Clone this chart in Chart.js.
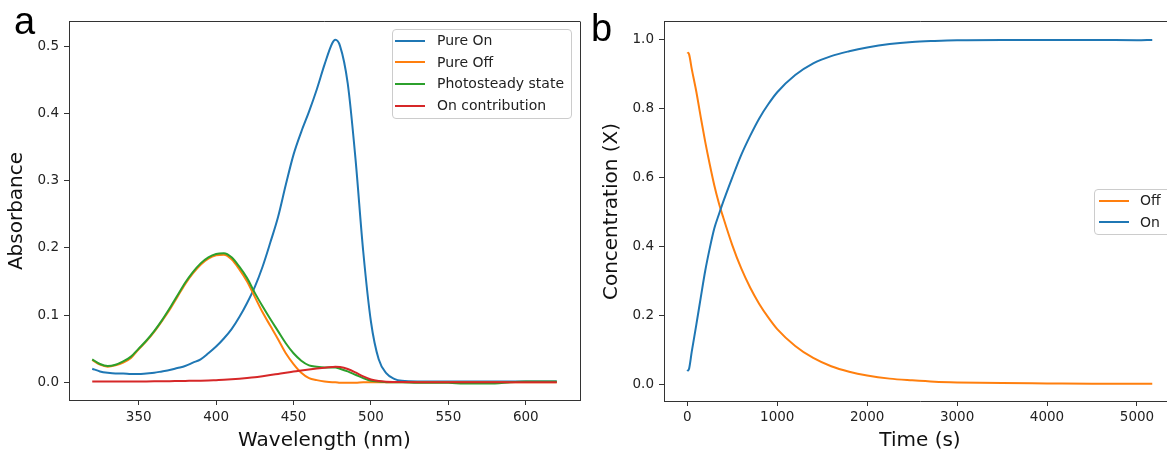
<!DOCTYPE html>
<html>
<head>
<meta charset="utf-8">
<script src="https://cdn.jsdelivr.net/npm/chart.js@4.4.1/dist/chart.umd.min.js"></script>
<style>
  html, body { margin: 0; padding: 0; background: #fff; overflow: hidden; }
  #wrap { position: relative; width: 1167px; height: 451px; overflow: hidden; }
  canvas { position: absolute; top: 0; }
  #chartA { left: 0; }
  #chartB { left: 600px; }
  .panel { position: absolute; font-family: "Liberation Sans", Arial, sans-serif; font-size: 38px; line-height: 38px; color: #000; }
  .legend { position: absolute; box-sizing: border-box; border: 1px solid #ccc; border-radius: 4px;
            background: rgba(255,255,255,0.8); font-family: "DejaVu Sans", sans-serif; font-size: 14px; color: #222; }
  .legend .row { position: relative; height: 21.6px; line-height: 21.6px; white-space: nowrap; }
  .legend .swatch { position: absolute; top: 50%; width: 30px; height: 2px; margin-top: -1px; }
</style>
</head>
<body>
<div id="wrap">
  <canvas id="chartA" width="600" height="451"></canvas>
  <canvas id="chartB" width="580" height="451"></canvas>
  <div class="panel" style="left:14px; top:2px;">a</div>
  <div class="panel" style="left:591px; top:9px;">b</div>
  <div class="legend" id="legendA" style="left:392px; top:29px; width:180px; height:90px;"></div>
  <div class="legend" id="legendB" style="left:1094px; top:189px; width:90px; height:46px;"></div>
</div>
<script>
// --- panel a: absorption spectra ---
const wavelengths = [320, 325, 330, 335, 340, 345, 350, 355, 360, 365, 370, 375, 380, 385, 390, 395,
  400, 405, 410, 415, 420, 425, 430, 435, 440, 445, 450, 455, 460, 465, 470, 475, 477, 480, 485, 490, 495,
  500, 505, 510, 515, 520, 530, 540, 550, 560, 570, 580, 590, 600, 610, 620];
const pureOn = [0.020, 0.016, 0.014, 0.013, 0.013, 0.012, 0.012, 0.013, 0.014, 0.016, 0.018, 0.021, 0.024, 0.029, 0.034, 0.043,
  0.053, 0.065, 0.079, 0.097, 0.118, 0.142, 0.172, 0.208, 0.246, 0.294, 0.339, 0.373, 0.403, 0.436, 0.473, 0.505, 0.510, 0.501, 0.445, 0.333, 0.195,
  0.090, 0.034, 0.013, 0.005, 0.002, 0.001, 0.001, 0.001, 0.001, 0.001, 0.001, 0.001, 0.001, 0.001, 0.001];
const pureOff = [0.033, 0.026, 0.023, 0.025, 0.029, 0.036, 0.049, 0.061, 0.075, 0.091, 0.108, 0.127, 0.146, 0.162, 0.175, 0.184,
  0.189, 0.190, 0.183, 0.168, 0.150, 0.127, 0.104, 0.084, 0.064, 0.043, 0.027, 0.014, 0.006, 0.003, 0.001, 0.000, 0.000, -0.001, -0.001, -0.001, 0.000,
  0.000, 0.000, 0.000, 0.000, 0.000, 0.000, 0.000, 0.000, 0.000, 0.000, 0.000, 0.000, 0.000, 0.000, 0.000];
const photosteady = [0.034, 0.027, 0.024, 0.026, 0.031, 0.038, 0.050, 0.062, 0.076, 0.092, 0.110, 0.129, 0.148, 0.164, 0.177, 0.186,
  0.191, 0.192, 0.186, 0.172, 0.155, 0.133, 0.113, 0.094, 0.076, 0.058, 0.043, 0.032, 0.025, 0.023, 0.022, 0.022, 0.022, 0.020, 0.016, 0.011, 0.006,
  0.002, 0.001, 0.000, 0.000, 0.000, -0.001, -0.001, -0.001, -0.002, -0.002, -0.002, 0.000, 0.001, 0.001, 0.001];
const onContribution = [0.0010, 0.0010, 0.0010, 0.0010, 0.0010, 0.0010, 0.0010, 0.0011, 0.0012, 0.0013, 0.0014, 0.0016, 0.0018, 0.0020, 0.0022, 0.0025,
  0.0030, 0.0035, 0.0042, 0.0050, 0.0060, 0.0072, 0.0088, 0.0105, 0.0123, 0.0141, 0.0158, 0.0175, 0.0190, 0.0203, 0.0215, 0.0225, 0.0228, 0.0224, 0.0195, 0.0145, 0.0085,
  0.0040, 0.0017, 0.0007, 0.0003, 0.0001, 0.0000, 0.0000, 0.0000, 0.0000, 0.0000, 0.0000, 0.0000, 0.0000, 0.0000, 0.0000];
const seriesA = ["Pure On", "Pure Off", "Photosteady state", "On contribution"];
const xTicksA = [350, 400, 450, 500, 550, 600];
const yTicksA = [0.0, 0.1, 0.2, 0.3, 0.4, 0.5];

// --- panel b: kinetics ---
const times = [0, 20, 50, 100, 150, 200, 250, 300, 350, 400, 500, 600, 700, 800, 900, 1000,
  1200, 1400, 1600, 1800, 2000, 2250, 2500, 2750, 3000, 3500, 4000, 4500, 5000, 5170];
const offFraction = [0.964, 0.958, 0.915, 0.850, 0.775, 0.703, 0.638, 0.578, 0.527, 0.484, 0.404, 0.336, 0.280, 0.233, 0.194, 0.160,
  0.111, 0.076, 0.052, 0.036, 0.025, 0.016, 0.011, 0.007, 0.005, 0.003, 0.002, 0.001, 0.001, 0.001];
const onFraction = [0.038, 0.045, 0.095, 0.172, 0.252, 0.330, 0.395, 0.452, 0.492, 0.530, 0.600, 0.666, 0.722, 0.772, 0.813, 0.848,
  0.898, 0.932, 0.953, 0.967, 0.978, 0.988, 0.994, 0.997, 0.999, 1.000, 1.000, 1.000, 0.999, 1.000];
const seriesB = ["Off", "On"];
const xTicksB = [0, 1000, 2000, 3000, 4000, 5000];
const yTicksB = [0.0, 0.2, 0.4, 0.6, 0.8, 1.0];

const tab = { blue: "#1f77b4", orange: "#ff7f0e", green: "#2ca02c", red: "#d62728" };
const AXIS = "#333";
const tickFont = { family: "DejaVu Sans", size: 13.5 };
const titleFont = { family: "DejaVu Sans", size: 20, lineHeight: 1.0 };

const points = (xs, ys) => xs.map((x, i) => ({ x: x, y: ys[i] }));

// draw top + right spines like matplotlib
const boxSpines = {
  id: "boxSpines",
  afterDraw(chart) {
    const { ctx, chartArea: a } = chart;
    ctx.save();
    ctx.strokeStyle = AXIS;
    ctx.lineWidth = 1;
    ctx.beginPath();
    ctx.moveTo(a.left, Math.round(a.top) - 0.5);
    ctx.lineTo(a.right + 0.5, Math.round(a.top) - 0.5);
    ctx.moveTo(Math.round(a.right) + 0.5, a.top);
    ctx.lineTo(Math.round(a.right) + 0.5, a.bottom);
    ctx.stroke();
    ctx.restore();
  }
};

function axis(opts) {
  return {
    type: "linear",
    min: opts.min,
    max: opts.max,
    afterBuildTicks: s => { s.ticks = opts.ticks.map(v => ({ value: v })); },
    afterFit: s => { if (opts.width) s.width = opts.width; if (opts.height) s.height = opts.height; },
    grid: { drawOnChartArea: false, drawTicks: true, tickLength: 5, tickColor: AXIS, tickWidth: 1 },
    border: { display: true, color: AXIS, width: 1 },
    ticks: {
      font: tickFont, color: "#222", padding: opts.pad, maxRotation: 0, autoSkip: false,
      callback: opts.fmt
    },
    title: { display: true, text: opts.title, font: titleFont, color: "#111", padding: opts.titlePad }
  };
}

function lineSet(label, data, color, order) {
  return {
    label: label, data: data, borderColor: color, backgroundColor: color,
    borderWidth: 2, pointRadius: 0, fill: false, order: order,
    cubicInterpolationMode: "monotone"
  };
}

const chartA = new Chart(document.getElementById("chartA"), {
  type: "line",
  data: {
    datasets: [
      lineSet(seriesA[0], points(wavelengths, pureOn), tab.blue, 4),
      lineSet(seriesA[1], points(wavelengths, pureOff), tab.orange, 3),
      lineSet(seriesA[2], points(wavelengths, photosteady), tab.green, 2),
      lineSet(seriesA[3], points(wavelengths, onContribution), tab.red, 1)
    ]
  },
  options: {
    responsive: false,
    animation: false,
    layout: { padding: { left: 0, top: 22, right: 20, bottom: 0 } },
    plugins: { legend: { display: false }, tooltip: { enabled: false } },
    scales: {
      x: axis({ min: 305, max: 635, ticks: xTicksA, fmt: v => String(v), pad: 4, height: 51,
                title: "Wavelength (nm)", titlePad: { top: 0, bottom: 0 } }),
      y: axis({ min: -0.0266, max: 0.5366, ticks: yTicksA, fmt: v => v.toFixed(1), pad: 5, width: 69,
                title: "Absorbance", titlePad: { top: 7, bottom: 0 } })
    }
  },
  plugins: [boxSpines]
});

const chartB = new Chart(document.getElementById("chartB"), {
  type: "line",
  data: {
    datasets: [
      lineSet(seriesB[0], points(times, offFraction), tab.orange, 2),
      lineSet(seriesB[1], points(times, onFraction), tab.blue, 1)
    ]
  },
  options: {
    responsive: false,
    animation: false,
    layout: { padding: { left: 0, top: 22, right: 4, bottom: 0 } },
    plugins: { legend: { display: false }, tooltip: { enabled: false } },
    scales: {
      x: axis({ min: -259, max: 5434, ticks: xTicksB, fmt: v => String(v), pad: 3, height: 50,
                title: "Time (s)", titlePad: { top: 0, bottom: 0 } }),
      y: axis({ min: -0.049, max: 1.052, ticks: yTicksB, fmt: v => v.toFixed(1), pad: 5, width: 64,
                title: "Concentration (X)", titlePad: { top: 2, bottom: 0 } })
    }
  },
  plugins: [boxSpines]
});

// HTML legends built from the chart datasets (matplotlib style, inside the axes)
function buildLegend(chart, el, swatchLeft, textLeft) {
  el.innerHTML = "";
  chart.data.datasets.forEach(ds => {
    const row = document.createElement("div");
    row.className = "row";
    row.style.paddingLeft = textLeft + "px";
    row.innerHTML = `<span class="swatch" style="left:${swatchLeft}px; background:${ds.borderColor}"></span>${ds.label}`;
    el.appendChild(row);
  });
}
buildLegend(chartA, document.getElementById("legendA"), 2, 44);
buildLegend(chartB, document.getElementById("legendB"), 4, 45);
</script>
</body>
</html>
